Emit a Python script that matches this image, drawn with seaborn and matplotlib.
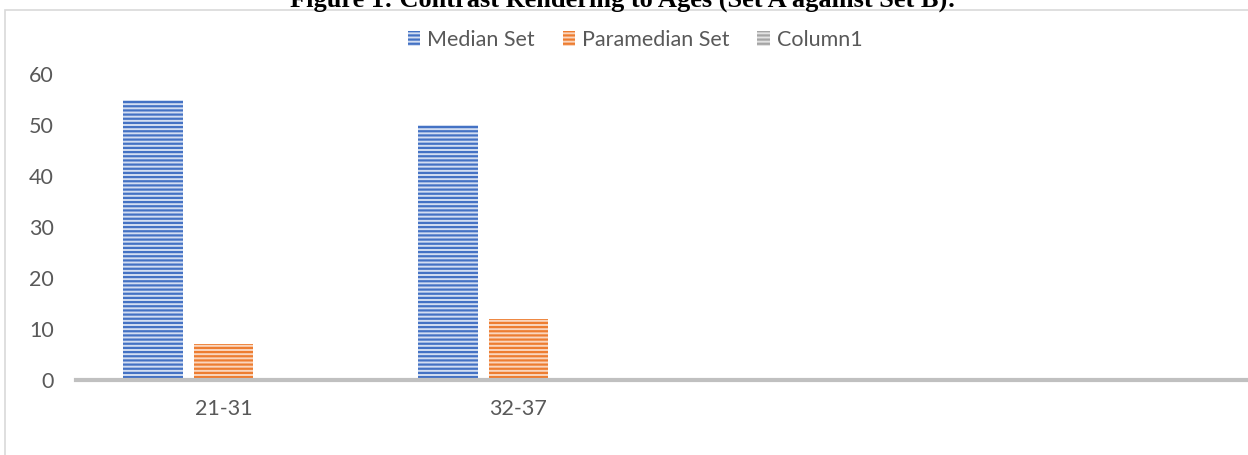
import matplotlib
matplotlib.use("Agg")
import matplotlib.pyplot as plt
import seaborn as sns
import pandas as pd
from matplotlib.patches import Rectangle

# ---- data ----
categories = ["21-31", "32-37", "", " "]
series_names = ["Median Set", "Paramedian Set", "Column1"]
median_set = [55, 50]
paramedian_set = [7, 12]
column1 = [0, 0]
title = "Figure 1: Contrast Rendering to Ages (Set A against Set B):"

dark_colors = ["#4472C4", "#ED7D31", "#A5A5A5"]
light_colors = ["#D3DEF2", "#FAD6BE", "#E2E2E2"]

rows = []
for name, vals in zip(series_names, [median_set, paramedian_set, column1]):
    for cat, v in zip(categories[:2], vals):
        rows.append({"Age": cat, "Series": name, "Value": v})
df = pd.DataFrame(rows)

sns.set_theme(style="white")
plt.rcParams["font.family"] = ["Lato", "DejaVu Sans"]
plt.rcParams["hatch.linewidth"] = 1.6

fig = plt.figure(figsize=(12.48, 4.55), dpi=100)
ax = fig.add_axes([76 / 1248, 1 - 380 / 455, 1180 / 1248, (380 - 74) / 455])

sns.barplot(data=df, x="Age", y="Value", hue="Series", order=categories,
            hue_order=series_names, palette=dark_colors, width=0.717, gap=0.163,
            ax=ax, legend=False)

for cont, dc, lc in zip(ax.containers, dark_colors, light_colors):
    for bar in cont:
        bar.set_facecolor(lc)
        bar.set_edgecolor(dc)
        bar.set_hatch("----")
        bar.set_linewidth(0)

ax.set_ylim(0, 60)
ax.set_xlim(-0.5, 3.5)
ax.set_yticks([0, 10, 20, 30, 40, 50, 60])
ax.set_xlabel("")
ax.set_ylabel("")
for s in ["top", "right", "left"]:
    ax.spines[s].set_visible(False)
ax.spines["bottom"].set_color("#C0C0C0")
ax.spines["bottom"].set_linewidth(3)
ax.spines["bottom"].set_zorder(5)
ax.tick_params(axis="y", length=0, pad=16, labelsize=15.5, labelcolor="#595959")
ax.tick_params(axis="x", length=0, pad=14, labelsize=15.5, labelcolor="#595959")
ax.grid(False)

fig.legend(ax.containers, series_names, loc="center", bbox_to_anchor=(635 / 1248, 1 - 40 / 455),
           ncol=3, frameon=False, fontsize=15.5, labelcolor="#595959",
           handlelength=0.6, handleheight=0.7, handletextpad=0.3, columnspacing=1.3)

fig.patches.append(Rectangle((5 / 1248, -0.1), 2, 1 - 10 / 455 + 0.1, transform=fig.transFigure,
                             fill=False, edgecolor="#D9D9D9", linewidth=1.2))

fig.text(623 / 1248, 1 - 7 / 455, title, ha="center", va="baseline",
         fontfamily="Liberation Serif", fontweight="bold", fontsize=19, color="black")

fig.savefig("out.png", dpi=100)
